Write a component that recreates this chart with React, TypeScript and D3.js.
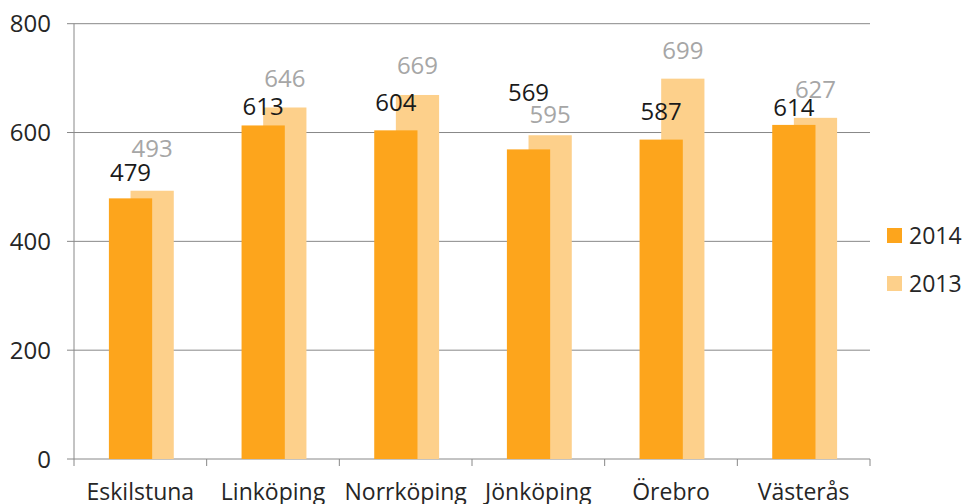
import React from 'react'
import * as d3 from 'd3'

const cities = ['Eskilstuna', 'Linköping', 'Norrköping', 'Jönköping', 'Örebro', 'Västerås']
const values2014 = [479, 613, 604, 569, 587, 614]
const values2013 = [493, 646, 669, 595, 699, 627]
const yTicks = [0, 200, 400, 600, 800]
const seriesNames = ['2014', '2013']

// labels that were dragged by hand in the original (px above bar top)
const labelLift2014 = [17, 10.5, 19.5, 48, 19.5, 8.5]
const labelLift2013 = [34, 20, 20.5, 12, 19.5, 19.5]

const COLOR_2014 = '#FDA51C'
const COLOR_2013 = '#FDD08B'
const GRID = '#888888'
const FONT = '"Open Sans", "DejaVu Sans", sans-serif'

const App: React.FC = () => {
  const width = 964
  const height = 504
  const left = 74
  const right = 870
  const top = 23.7
  const bottom = 459

  const xScale = d3.scaleBand<string>().domain(cities).range([left, right]).padding(0)
  const yScale = d3.scaleLinear().domain([0, 800]).range([bottom, top])

  const band = xScale.bandwidth()
  const barW = band * 0.326
  const center = (c: string) => (xScale(c) as number) + band / 2 + 1

  const boundaries = d3.range(cities.length + 1).map((i) => left + i * band)

  return (
    <svg width={width} height={height} style={{ position: 'absolute', left: 0, top: 0, fontFamily: FONT }}>
      <rect width={width} height={height} fill="#fff" />

      {/* grid */}
      {yTicks.map((t) => (
        <g key={t}>
          <line x1={left - 7} x2={right} y1={yScale(t)} y2={yScale(t)} stroke={GRID} strokeWidth={1} />
          <text x={51} y={yScale(t) + 8.5} textAnchor="end" fontSize={24} fill="#262626">{t}</text>
        </g>
      ))}
      <line x1={left} x2={left} y1={top} y2={bottom} stroke={GRID} strokeWidth={1} />
      {boundaries.map((b, i) => (
        <line key={i} x1={b} x2={b} y1={bottom} y2={bottom + 7} stroke={GRID} strokeWidth={1} />
      ))}

      {/* bars: 2013 behind, 2014 in front */}
      {cities.map((c, i) => (
        <rect key={'b13' + c} x={center(c) - barW * 0.25} y={yScale(values2013[i])} width={barW}
          height={bottom - yScale(values2013[i])} fill={COLOR_2013} />
      ))}
      {cities.map((c, i) => (
        <rect key={'b14' + c} x={center(c) - barW * 0.75} y={yScale(values2014[i])} width={barW}
          height={bottom - yScale(values2014[i])} fill={COLOR_2014} />
      ))}

      {/* value labels */}
      {cities.map((c, i) => (
        <text key={'l13' + c} x={center(c) + barW * 0.25} y={yScale(values2013[i]) - labelLift2013[i]}
          textAnchor="middle" fontSize={24} fill="#A6A6A6">{values2013[i]}</text>
      ))}
      {cities.map((c, i) => (
        <text key={'l14' + c} x={center(c) - barW * 0.25} y={yScale(values2014[i]) - labelLift2014[i]}
          textAnchor="middle" fontSize={24} fill="#1A1A1A">{values2014[i]}</text>
      ))}

      {/* category labels */}
      {cities.map((c) => (
        <text key={'c' + c} x={(xScale(c) as number) + band / 2} y={500} textAnchor="middle" fontSize={23} fill="#262626">{c}</text>
      ))}

      {/* legend */}
      {seriesNames.map((s, i) => (
        <g key={s} transform={`translate(887, ${228 + i * 48})`}>
          <rect width={15} height={15} fill={i === 0 ? COLOR_2014 : COLOR_2013} />
          <text x={22} y={16} fontSize={23} fill="#262626">{s}</text>
        </g>
      ))}
    </svg>
  )
}

export default App
